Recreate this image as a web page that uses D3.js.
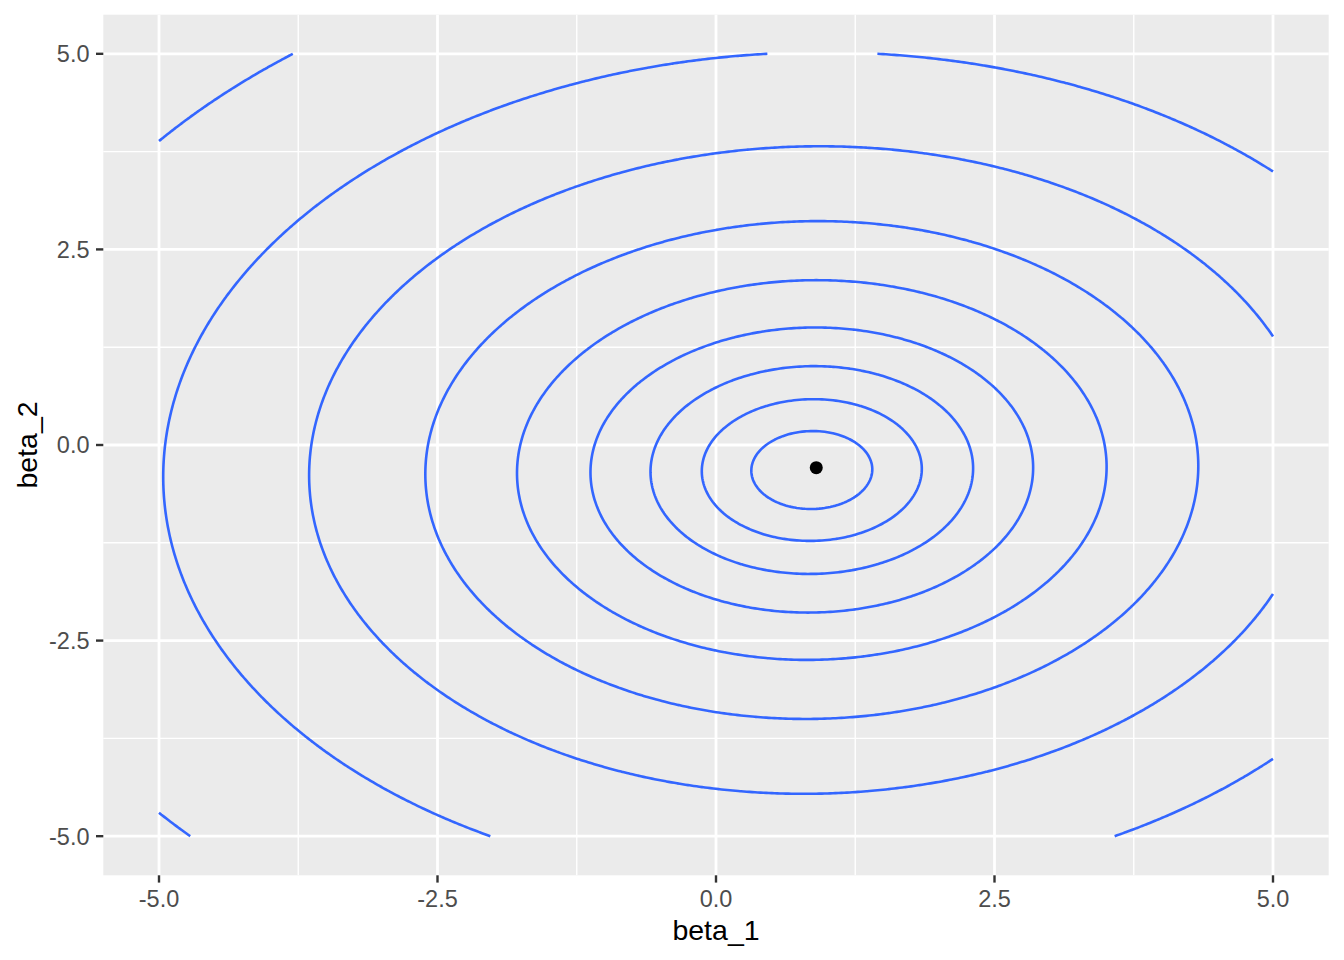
<!DOCTYPE html>
<html><head><meta charset="utf-8">
<script src="https://cdn.jsdelivr.net/npm/d3@7"></script>
<style>body{margin:0;background:#fff} text{font-family:"Liberation Sans",Arial,Helvetica,sans-serif}</style>
</head><body>
<svg id="chart" width="1344" height="960"></svg>
<script>
// ---- data ----
const xTicks = [-5, -2.5, 0, 2.5, 5];
const yTicks = [-5, -2.5, 0, 2.5, 5];
const xMinor = [-3.75, -1.25, 1.25, 3.75];
const yMinor = [-3.75, -1.25, 1.25, 3.75];
const xTickLabels = ["-5.0", "-2.5", "0.0", "2.5", "5.0"];
const yTickLabels = ["-5.0", "-2.5", "0.0", "2.5", "5.0"];
const dataRange = [-5, 5];
// quadratic surface (centre and coefficients a, b, c of a*dx^2 + 2*b*dx*dy + c*dy^2)
const surfaceCenter = [0.86, -0.32];
const surfaceCoef = [0.841, -0.015, 1.0];
const contourLevels = [0.248, 0.820, 1.763, 3.319, 5.888, 10.12, 17.12, 28.5, 47.3];
const minimumPoint = [0.9, -0.29];

// ---- layout ----
const svg = d3.select("#chart");
const W = 1344, H = 960;
const panel = {x0: 103.3, x1: 1328.7, y0: 14.7, y1: 875.3};
const x = d3.scaleLinear().domain([-5.5, 5.5]).range([panel.x0, panel.x1]);
const y = d3.scaleLinear().domain([-5.5, 5.5]).range([panel.y1, panel.y0]);

svg.append("rect").attr("width", W).attr("height", H).attr("fill", "#fff");
svg.append("rect").attr("x", panel.x0).attr("y", panel.y0)
  .attr("width", panel.x1 - panel.x0).attr("height", panel.y1 - panel.y0).attr("fill", "#EBEBEB");

const grid = svg.append("g");
grid.selectAll(".vmin").data(xMinor).join("line")
  .attr("x1", d => x(d)).attr("x2", d => x(d)).attr("y1", panel.y0).attr("y2", panel.y1)
  .attr("stroke", "#fff").attr("stroke-width", 1.4);
grid.selectAll(".hmin").data(yMinor).join("line")
  .attr("y1", d => y(d)).attr("y2", d => y(d)).attr("x1", panel.x0).attr("x2", panel.x1)
  .attr("stroke", "#fff").attr("stroke-width", 1.4);
grid.selectAll(".vmaj").data(xTicks).join("line")
  .attr("x1", d => x(d)).attr("x2", d => x(d)).attr("y1", panel.y0).attr("y2", panel.y1)
  .attr("stroke", "#fff").attr("stroke-width", 2.8);
grid.selectAll(".hmaj").data(yTicks).join("line")
  .attr("y1", d => y(d)).attr("y2", d => y(d)).attr("x1", panel.x0).attr("x2", panel.x1)
  .attr("stroke", "#fff").attr("stroke-width", 2.8);

// ---- contour grid over the data range ----
const step = 0.025;
const n = Math.round((dataRange[1] - dataRange[0]) / step) + 1;
const values = new Float64Array(n * n);
const [a, b, c] = surfaceCoef;
for (let j = 0; j < n; j++) {
  const dy = dataRange[0] + j * step - surfaceCenter[1];
  for (let i = 0; i < n; i++) {
    const dx = dataRange[0] + i * step - surfaceCenter[0];
    values[j * n + i] = a * dx * dx + 2 * b * dx * dy + c * dy * dy;
  }
}
const contours = d3.contours().size([n, n]).thresholds(contourLevels)(values);
const gx = cx => dataRange[0] + (cx - 0.5) * step;
const isOuter = p => p[0] === 0 || p[0] === n || p[1] === 0 || p[1] === n;
function contourPath(mp) {
  const p = d3.path();
  for (const poly of mp.coordinates) for (const ring of poly) {
    let pen = false;
    for (let k = 0; k < ring.length - 1; k++) {
      const s = ring[k], t = ring[k + 1];
      if (isOuter(s) || isOuter(t)) { pen = false; continue; }
      if (!pen) { p.moveTo(x(gx(s[0])), y(gx(s[1]))); pen = true; }
      p.lineTo(x(gx(t[0])), y(gx(t[1])));
    }
  }
  return p.toString();
}

svg.append("g").selectAll("path").data(contours).join("path")
  .attr("d", contourPath).attr("fill", "none")
  .attr("stroke", "#3366FF").attr("stroke-width", 2.6)
  .attr("stroke-linejoin", "round").attr("stroke-linecap", "butt");

svg.append("circle").attr("cx", x(minimumPoint[0])).attr("cy", y(minimumPoint[1]))
  .attr("r", 6.5).attr("fill", "#000");

// ---- axes ----
const ax = svg.append("g");
ax.selectAll(".xt").data(xTicks).join("line")
  .attr("x1", d => x(d)).attr("x2", d => x(d)).attr("y1", panel.y1).attr("y2", panel.y1 + 7.3)
  .attr("stroke", "#333").attr("stroke-width", 2.4);
ax.selectAll(".yt").data(yTicks).join("line")
  .attr("y1", d => y(d)).attr("y2", d => y(d)).attr("x1", panel.x0 - 7.3).attr("x2", panel.x0)
  .attr("stroke", "#333").attr("stroke-width", 2.4);
ax.selectAll(".xl").data(xTicks).join("text")
  .attr("x", d => x(d)).attr("y", 907).attr("text-anchor", "middle")
  .attr("font-size", 23.5).attr("fill", "#4D4D4D").text((d, i) => xTickLabels[i]);
ax.selectAll(".yl").data(yTicks).join("text")
  .attr("x", 89.5).attr("y", d => y(d)).attr("dy", "0.36em").attr("text-anchor", "end")
  .attr("font-size", 23.5).attr("fill", "#4D4D4D").text((d, i) => yTickLabels[i]);

svg.append("text").attr("x", (panel.x0 + panel.x1) / 2).attr("y", 940)
  .attr("text-anchor", "middle").attr("font-size", 28.5).attr("fill", "#000").text("beta_1");
svg.append("text").attr("transform", `translate(37,${(panel.y0 + panel.y1) / 2}) rotate(-90)`)
  .attr("text-anchor", "middle").attr("font-size", 28.5).attr("fill", "#000").text("beta_2");
</script>
</body></html>
